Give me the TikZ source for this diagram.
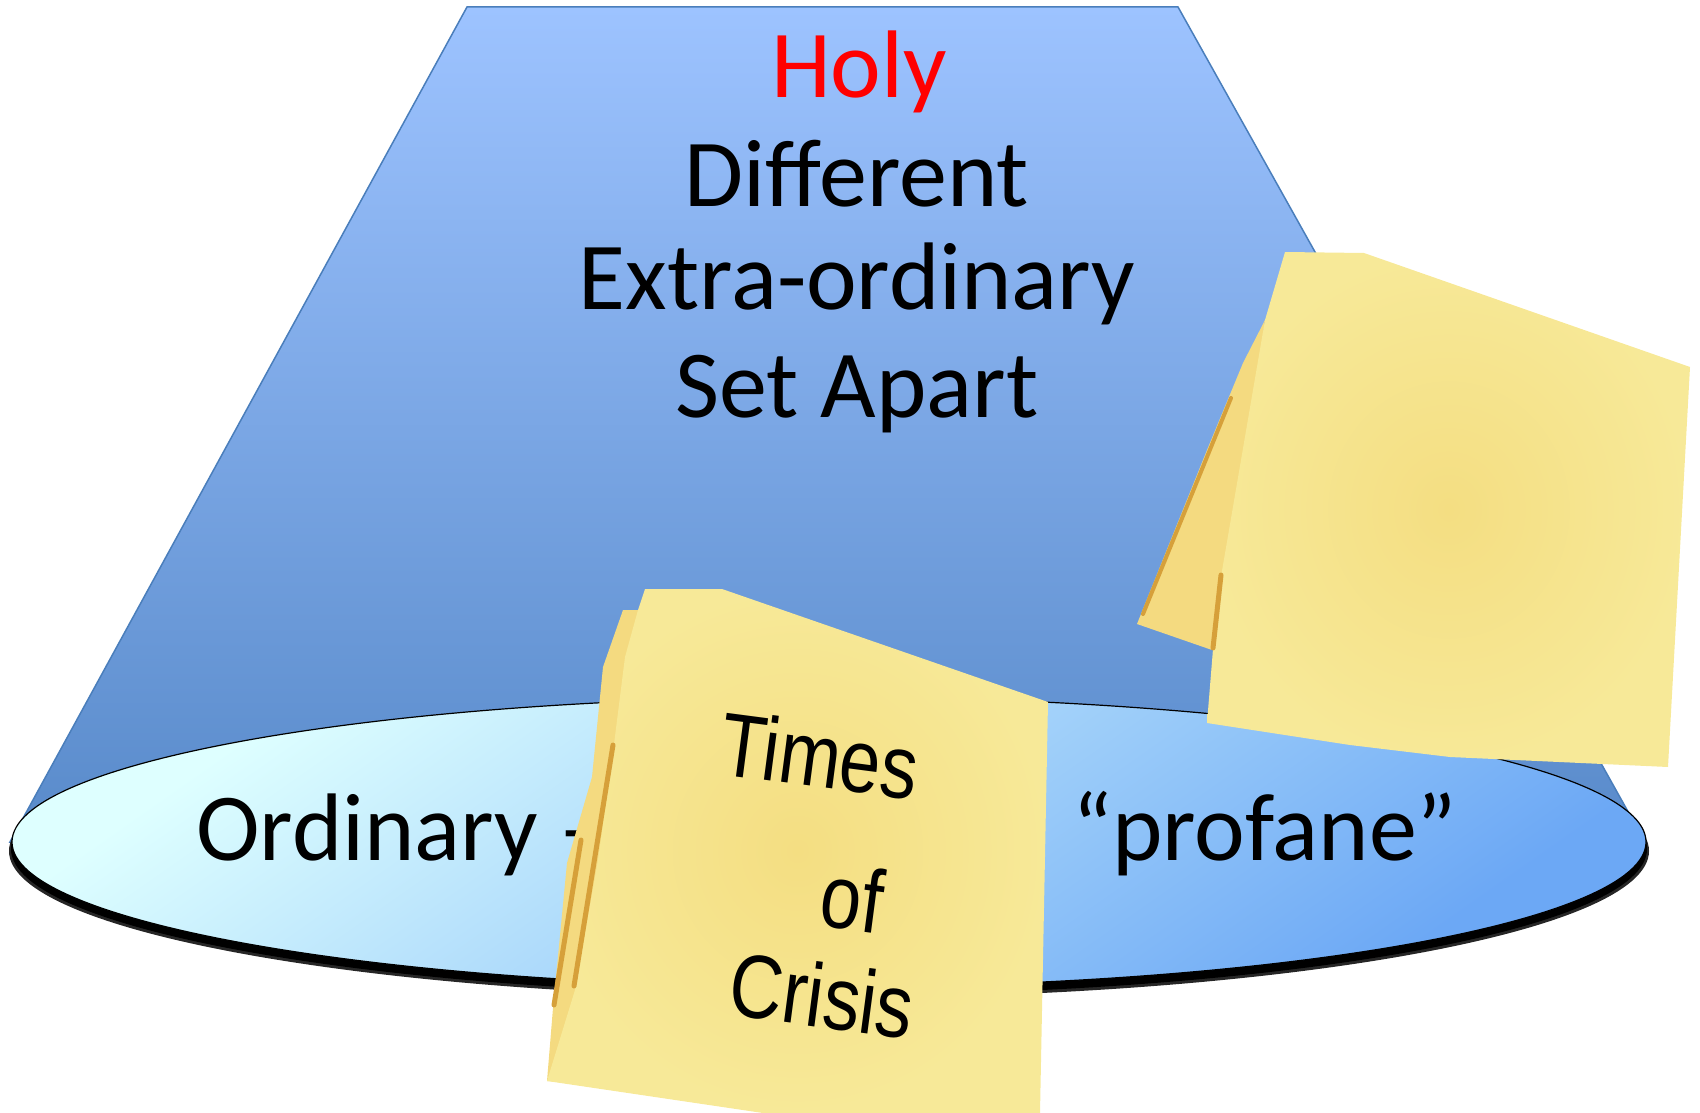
\documentclass[tikz,border=0pt]{standalone}
\usepackage{fontspec}
\setmainfont{Carlito}
\newfontfamily\notefont{Liberation Sans}
\definecolor{conetop}{RGB}{157,195,255}
\definecolor{conebot}{RGB}{88,138,202}
\definecolor{coneline}{RGB}{74,126,187}
\definecolor{disclight}{RGB}{222,255,255}
\definecolor{discdark}{RGB}{108,168,245}
\definecolor{notein}{RGB}{244,222,130}
\definecolor{noteout}{RGB}{247,233,152}
\definecolor{noteback}{RGB}{244,218,128}
\definecolor{noteedge}{RGB}{214,160,58}
\definecolor{holyred}{RGB}{255,0,0}

\begin{document}
\begin{tikzpicture}[x=1pt, y=-1pt,
    bigtext/.style={inner sep=0pt, anchor=base, font=\fontsize{96}{106}\selectfont},
    notetext/.style={inner sep=0pt, anchor=base, rotate=-7.5, font=\notefont\fontsize{90}{96}\selectfont},
    sheet/.style={inner color=notein, outer color=noteout},
    strip/.style={draw=noteedge, line width=5pt, line cap=round}]
  \useasboundingbox (0,0) rectangle (1700,1113);
  \shadedraw[top color=conetop, bottom color=conebot, draw=coneline, line width=1.5pt]
    (467,7) -- (1178,7) -- (1645,842) -- (10,842) -- cycle;
  \fill[black!85] (829,851) ellipse [x radius=820, y radius=147];
  \fill[black] (829,849) ellipse [x radius=818, y radius=146];
  \shadedraw[top color=disclight, bottom color=discdark, shading angle=35, draw=black, line width=1.2pt]
    (829,842) ellipse [x radius=817, y radius=145];

  \node[bigtext, text=holyred] (holy) at (859,98) {Holy};
  \node[bigtext] (diff) at (857,206) {Different};
  \node[bigtext] (extra) at (857,309) {Extra-ordinary};
  \node[bigtext] (apart) at (857,417) {Set Apart};
  \node[bigtext, anchor=base west] (ordinary) at (196,860) {Ordinary –};
  \node[bigtext, anchor=base west] (profane) at (1072,860) {“profane”};

  \fill[noteback] (1265,320) -- (1243,363) -- (1207,450) -- (1137,624) -- (1212,650) -- (1240,500) -- cycle;
  \draw[strip, line width=4pt] (1231,398) -- (1143,614);
  \shade[sheet] (1285,252) -- (1364,253) -- (1690,367) -- (1668,767) -- (1450,757) -- (1350,745)
    -- (1207,723) -- (1217,600) -- (1265,320) -- cycle;
  \draw[strip] (1221,575) -- (1213,648);

  \fill[noteback] (623,610) -- (700,610) -- (700,1090) -- (547,1081) -- (553,1008) -- (567,863)
    -- (592,777) -- (603,667) -- cycle;
  \shade[sheet] (645,589) -- (722,589) -- (1048,702) -- (1040,1113) -- (763,1113) -- (547,1081)
    -- (575,990) -- (598,860) -- (612,760) -- (625,657) -- (638,610) -- cycle;
  \draw[strip] (613,745) -- (574,986);
  \draw[strip] (581,840) -- (554,1005);

  \node[notetext] (times) at (816,787) {\scalebox{0.82}[1]{Times}};
  \node[notetext] (of) at (848,930) {\scalebox{0.82}[1]{of}};
  \node[notetext] (crisis) at (818,1027) {\scalebox{0.82}[1]{Crisis}};
\end{tikzpicture}
\end{document}
